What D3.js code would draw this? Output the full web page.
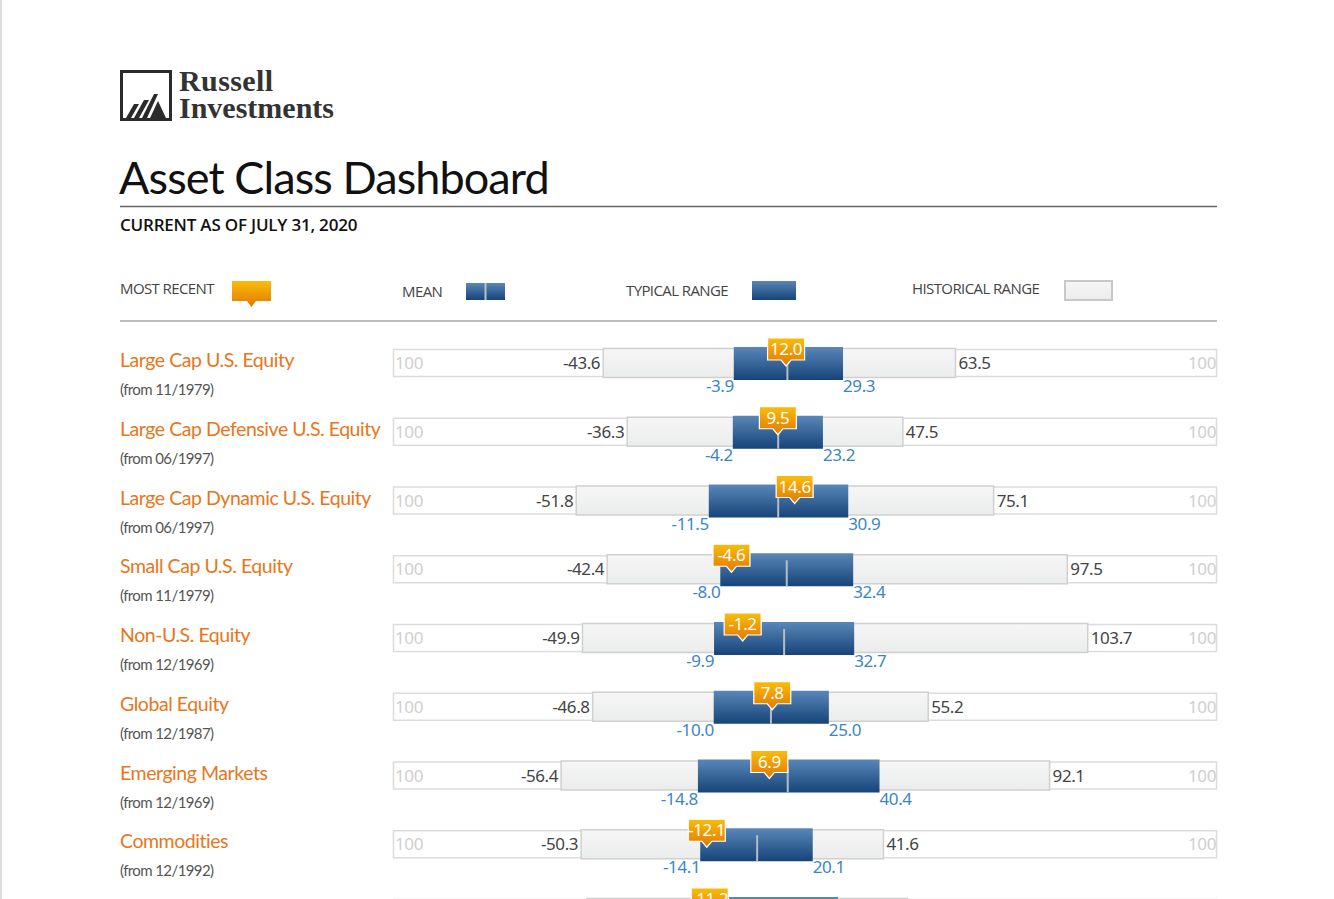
<!DOCTYPE html>
<html>
<head>
<meta charset="utf-8">
<script src="https://cdn.jsdelivr.net/npm/d3@7"></script>
<style>
  body { margin: 0; background: #fff; overflow: hidden; }
  svg { display: block; }
</style>
</head>
<body>
<div id="dashboard"></div>
<script>
// values
var categories = ["Large Cap U.S. Equity", "Large Cap Defensive U.S. Equity", "Large Cap Dynamic U.S. Equity",
                  "Small Cap U.S. Equity", "Non-U.S. Equity", "Global Equity", "Emerging Markets", "Commodities",
                  "Global Real Estate"];
var sinceDates = ["11/1979", "06/1997", "06/1997", "11/1979", "12/1969", "12/1987", "12/1969", "12/1992", "12/1989"];
var histLow   = [-43.6, -36.3, -51.8, -42.4, -49.9, -46.8, -56.4, -50.3, -48.5];
var histHigh  = [63.5, 47.5, 75.1, 97.5, 103.7, 55.2, 92.1, 41.6, 48.9];
var typLow    = [-3.9, -4.2, -11.5, -8.0, -9.9, -10.0, -14.8, -14.1, -5.5];
var typHigh   = [29.3, 23.2, 30.9, 32.4, 32.7, 25.0, 40.4, 20.1, 27.8];
var meanVals  = [12.4, 9.6, 9.6, 12.2, 11.4, 7.4, 12.5, 3.2, 9.5];
var recentVals = [12.0, 9.5, 14.6, -4.6, -1.2, 7.8, 6.9, -12.1, -11.2];
var trackLabels = ["100", "100"];

var W = 1334, H = 899;
var orange = "#e8761a";

var svg = d3.select("#dashboard").append("svg")
    .attr("width", W).attr("height", H);

var defs = svg.append("defs");
var gBlue = defs.append("linearGradient").attr("id", "gBlue").attr("x1", 0).attr("x2", 0).attr("y1", 0).attr("y2", 1);
gBlue.append("stop").attr("offset", "0%").attr("stop-color", "#5a87b8");
gBlue.append("stop").attr("offset", "100%").attr("stop-color", "#164479");
var gOrange = defs.append("linearGradient").attr("id", "gOrange").attr("x1", 0).attr("x2", 0).attr("y1", 0).attr("y2", 1);
gOrange.append("stop").attr("offset", "0%").attr("stop-color", "#f9bd0a");
gOrange.append("stop").attr("offset", "100%").attr("stop-color", "#e27800");
var gGrey = defs.append("linearGradient").attr("id", "gGrey").attr("x1", 0).attr("x2", 0).attr("y1", 0).attr("y2", 1);
gGrey.append("stop").attr("offset", "0%").attr("stop-color", "#f6f6f6");
gGrey.append("stop").attr("offset", "100%").attr("stop-color", "#ebecec");

// left page edge
svg.append("line").attr("x1", 1).attr("x2", 1).attr("y1", 0).attr("y2", H)
    .attr("stroke", "#ddd").attr("stroke-width", 2);

// logo
var logo = svg.append("g").attr("transform", "translate(120,70)");
logo.append("rect").attr("x", 1.5).attr("y", 1.5).attr("width", 49).attr("height", 48)
    .attr("fill", "none").attr("stroke", "#2b2b2b").attr("stroke-width", 3);
var peaks = [
  [[6, 48], [14, 34], [19, 34], [11, 48]],
  [[14, 48], [24, 30], [29, 30], [19, 48]],
  [[22, 48], [34, 24], [38, 24], [27, 48]],
  [[30, 48], [38, 31], [46, 48]]
];
logo.selectAll("polygon").data(peaks).enter().append("polygon")
    .attr("points", function(d) { return d.map(function(p) { return p.join(","); }).join(" "); })
    .attr("fill", "#2b2b2b");
logo.append("text").attr("x", 59).attr("y", 21)
    .style("font-family", "Liberation Serif, serif").style("font-weight", "bold")
    .style("font-size", "30px").attr("fill", "#333").style("letter-spacing", "0.4px").text("Russell");
logo.append("text").attr("x", 59).attr("y", 48)
    .style("font-family", "Liberation Serif, serif").style("font-weight", "bold")
    .style("font-size", "30px").attr("fill", "#333").style("letter-spacing", "0px").text("Investments");

// title
svg.append("text").attr("x", 119).attr("y", 194)
    .style("font-family", "Lato, sans-serif").style("font-size", "45px")
    .attr("fill", "#111").style("letter-spacing", "-0.9px").text("Asset Class Dashboard");
svg.append("line").attr("x1", 120).attr("x2", 1217).attr("y1", 206.5).attr("y2", 206.5)
    .attr("stroke", "#666").attr("stroke-width", 1.5);
svg.append("text").attr("x", 120).attr("y", 231)
    .style("font-family", "Open Sans, sans-serif").style("font-size", "17px").style("font-weight", 600)
    .attr("fill", "#111").style("letter-spacing", "-0.2px").text("CURRENT AS OF JULY 31, 2020");

// legend
var legendFont = function(sel) {
  sel.style("font-family", "Open Sans, sans-serif").style("font-size", "15px")
     .attr("fill", "#444").style("letter-spacing", "-0.6px");
};
svg.append("text").attr("x", 120).attr("y", 294).call(legendFont).text("MOST RECENT");
svg.append("path").attr("d", "M232,281 H271 V301 H256 L251.5,307 L247,301 H232 Z")
    .attr("fill", "url(#gOrange)");
svg.append("text").attr("x", 402).attr("y", 297).call(legendFont).text("MEAN");
svg.append("rect").attr("x", 466).attr("y", 283).attr("width", 39).attr("height", 17).attr("fill", "url(#gBlue)");
svg.append("line").attr("x1", 485.5).attr("x2", 485.5).attr("y1", 283).attr("y2", 300).attr("stroke", "#b8c0c8").attr("stroke-width", 2);
svg.append("text").attr("x", 626).attr("y", 296).call(legendFont).text("TYPICAL RANGE");
svg.append("rect").attr("x", 752).attr("y", 281).attr("width", 44).attr("height", 19).attr("fill", "url(#gBlue)");
svg.append("text").attr("x", 912).attr("y", 294).call(legendFont).text("HISTORICAL RANGE");
svg.append("rect").attr("x", 1065).attr("y", 281).attr("width", 47).attr("height", 19)
    .attr("fill", "url(#gGrey)").attr("stroke", "#c8c8c8").attr("stroke-width", 2);
svg.append("line").attr("x1", 120).attr("x2", 1217).attr("y1", 321).attr("y2", 321)
    .attr("stroke", "#bdbdbd").attr("stroke-width", 2);

// scales
var x = d3.scaleLinear().domain([-107.5, 143]).range([393, 1217]);
var y = d3.scaleBand().domain(categories).range([329, 329 + 68.75 * categories.length]);
var rowMid = function(i) { return y(categories[i]) + 34; };

var numFont = function(sel) {
  sel.style("font-family", "Noto Sans, sans-serif").style("font-size", "17px").style("letter-spacing", "-0.4px");
};

var rows = svg.append("g").selectAll(".row")
    .data(d3.range(categories.length)).enter().append("g")
    .attr("class", "row")
    .attr("transform", function(i) { return "translate(0," + rowMid(i) + ")"; });

// labels
rows.append("text").attr("x", 120).attr("y", 4)
    .style("font-family", "Lato, sans-serif").style("font-size", "19.5px")
    .attr("fill", orange).style("letter-spacing", "-0.45px")
    .text(function(i) { return categories[i]; });
rows.append("text").attr("x", 120).attr("y", 32)
    .style("font-family", "Lato, sans-serif").style("font-size", "15px")
    .attr("fill", "#555").style("letter-spacing", "-0.6px")
    .text(function(i) { return "(from " + sinceDates[i] + ")"; });

// outer track
rows.append("rect")
    .attr("x", x.range()[0] + 0.5).attr("y", -13.5)
    .attr("width", x.range()[1] - x.range()[0] - 1).attr("height", 27)
    .attr("fill", "#fff").attr("stroke", "#dcdcdc").attr("stroke-width", 1.5);
rows.append("text").attr("x", x.range()[0] + 2).attr("y", 6).call(numFont)
    .attr("fill", "#cfcfcf").text(trackLabels[0]);
rows.append("text").attr("x", x.range()[1] - 1).attr("y", 6).call(numFont)
    .attr("text-anchor", "end").attr("fill", "#cfcfcf").text(trackLabels[1]);

// historical range
rows.append("rect")
    .attr("x", function(i) { return x(histLow[i]); }).attr("y", -14.5)
    .attr("width", function(i) { return x(histHigh[i]) - x(histLow[i]); }).attr("height", 29)
    .attr("fill", "url(#gGrey)").attr("stroke", "#d0d0d0").attr("stroke-width", 1.5);
rows.append("text").attr("x", function(i) { return x(histLow[i]) - 3; }).attr("y", 6).call(numFont)
    .attr("text-anchor", "end").attr("fill", "#444").text(function(i) { return histLow[i].toFixed(1); });
rows.append("text").attr("x", function(i) { return x(histHigh[i]) + 3; }).attr("y", 6).call(numFont)
    .attr("fill", "#444").text(function(i) { return histHigh[i].toFixed(1); });

// typical range
rows.append("rect")
    .attr("x", function(i) { return x(typLow[i]); }).attr("y", -16)
    .attr("width", function(i) { return x(typHigh[i]) - x(typLow[i]); }).attr("height", 33)
    .attr("fill", "url(#gBlue)");
rows.append("text").attr("x", function(i) { return x(typLow[i]); }).attr("y", 29).call(numFont)
    .attr("text-anchor", "end").attr("fill", "#3b86c6").text(function(i) { return typLow[i].toFixed(1); });
rows.append("text").attr("x", function(i) { return x(typHigh[i]); }).attr("y", 29).call(numFont)
    .attr("fill", "#3b86c6").text(function(i) { return typHigh[i].toFixed(1); });

// mean
rows.append("line")
    .attr("x1", function(i) { return x(meanVals[i]); }).attr("x2", function(i) { return x(meanVals[i]); })
    .attr("y1", -9).attr("y2", 17)
    .attr("stroke", "#b4bcc4").attr("stroke-width", 2);

// most recent marker
var marker = rows.append("g")
    .attr("transform", function(i) { return "translate(" + x(recentVals[i]) + ",0)"; });
marker.append("path")
    .attr("d", "M-18.5,-25 H18.5 V-3 H5 L0,3 L-5,-3 H-18.5 Z")
    .attr("fill", "url(#gOrange)").attr("stroke", "#fff").attr("stroke-width", 1.2);
marker.append("text").attr("x", 0).attr("y", -8).call(numFont)
    .attr("text-anchor", "middle").attr("fill", "#fff")
    .text(function(i) { return recentVals[i].toFixed(1); });
</script>
</body>
</html>
